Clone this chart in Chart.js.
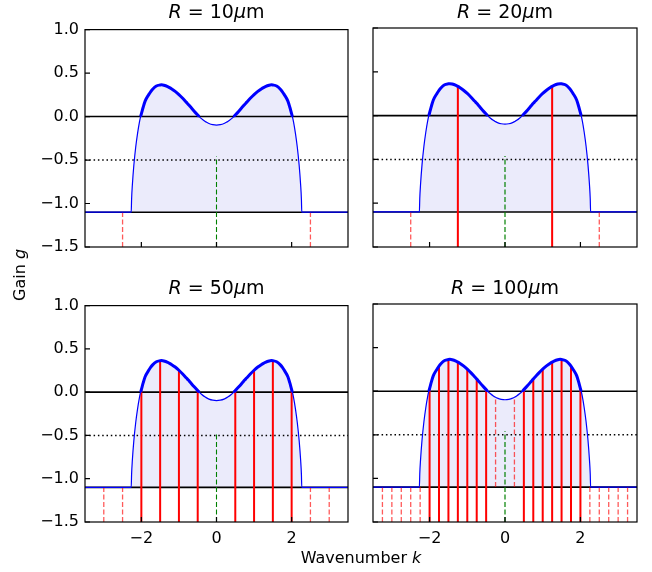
<!DOCTYPE html>
<html>
<head>
<meta charset="utf-8">
<script src="https://cdn.jsdelivr.net/npm/chart.js@4.4.1/dist/chart.umd.min.js"></script>
<style>
  body { margin: 0; background: #fff; font-family: "DejaVu Sans", sans-serif; }
  #fig { position: relative; width: 652px; height: 572px; overflow: hidden; }
  .panel { position: absolute; }
  .ttl { position: absolute; font-size: 19px; line-height: 19px; white-space: nowrap; transform: translateX(-50%); color: #000; }
  .lbl { position: absolute; font-size: 16px; line-height: 16px; white-space: nowrap; color: #000; }
</style>
</head>
<body>
<div id="fig"></div>
<script>
// radios de cada panel (en micras)
const radii = [10, 20, 50, 100];

// curva de ganancia g(k)
const kGrid = [-3.5, -2.27, -2.26, -2.24, -2.2, -2.15, -2.1, -2.05, -2.02, -2.0, -1.95, -1.9, -1.8, -1.75, -1.7, -1.6,
  -1.5, -1.46, -1.4, -1.3, -1.25, -1.2, -1.1, -1.0, -0.9, -0.8, -0.75, -0.7, -0.6, -0.5, -0.46, -0.4, -0.3, -0.25,
  -0.2, -0.1, 0, 0.1, 0.2, 0.25, 0.3, 0.4, 0.46, 0.5, 0.6, 0.7, 0.75, 0.8, 0.9, 1.0, 1.1, 1.2, 1.25, 1.3, 1.4, 1.46,
  1.5, 1.6, 1.7, 1.75, 1.8, 1.9, 1.95, 2.0, 2.02, 2.05, 2.1, 2.15, 2.2, 2.24, 2.26, 2.27, 3.5];
const gain = [-1.1, -1.1, -0.95, -0.79, -0.56, -0.35, -0.19, -0.06, 0.0, 0.03, 0.11, 0.178, 0.255, 0.288, 0.315, 0.352,
  0.363, 0.365, 0.36, 0.344, 0.333, 0.32, 0.29, 0.253, 0.21, 0.163, 0.14, 0.115, 0.065, 0.018, 0.0, -0.024, -0.057, -0.069,
  -0.08, -0.093, -0.098, -0.093, -0.08, -0.069, -0.057, -0.024, 0.0, 0.018, 0.065, 0.115, 0.14, 0.163, 0.21, 0.253, 0.29,
  0.32, 0.333, 0.344, 0.36, 0.365, 0.363, 0.352, 0.315, 0.288, 0.255, 0.178, 0.11, 0.03, 0.0, -0.06, -0.19, -0.35, -0.56,
  -0.79, -0.95, -1.1, -1.1];

// modos permitidos en cada panel
const modesR10 = [-2.5, 0, 2.5];
const modesR20 = [-2.5, -1.25, 0, 1.25, 2.5];
const modesR50 = [-3, -2.5, -2, -1.5, -1, -0.5, 0, 0.5, 1, 1.5, 2, 2.5, 3];
const modesR100 = [-3.25, -3, -2.75, -2.5, -2.25, -2, -1.75, -1.5, -1.25, -1, -0.75, -0.5, -0.25, 0,
  0.25, 0.5, 0.75, 1, 1.25, 1.5, 1.75, 2, 2.25, 2.5, 2.75, 3, 3.25];
const modeSets = [modesR10, modesR20, modesR50, modesR100];

// lineas horizontales y ejes
const floorGain = -1.1;
const zeroLine = 0;
const dottedLine = -0.5;
const greenTop = -0.46;
const xTicks = [-2, 0, 2];
const yTicks = [-1.5, -1.0, -0.5, 0.0, 0.5, 1.0];
const xRange = [-3.5, 3.5];
const yRange = [-1.5, 1.0];

// posicion de cada panel en la figura (area del grafico)
const panels = [
  { left: 85, top: 28, w: 263, h: 219, showX: false, showY: true },
  { left: 373, top: 28, w: 264, h: 219, showX: false, showY: false },
  { left: 85, top: 304, w: 263, h: 218, showX: true, showY: true },
  { left: 373, top: 304, w: 264, h: 218, showX: true, showY: false }
];
const greenStyle = [
  { color: 'green', width: 1.1 },
  { color: 'rgba(0,128,0,0.6)', width: 2 },
  { color: 'green', width: 1.1 },
  { color: 'rgba(0,128,0,0.6)', width: 2 }
];

const PAD_L = 60, PAD_T = 14, PAD_R = 14, PAD_B = 34;
const minus = s => String(s).replace('-', '\u2212');

function gainAt(k) {
  const i = kGrid.findIndex(v => Math.abs(v - k) < 1e-9);
  return i < 0 ? floorGain : gain[i];
}

function hline(y) {
  return [{ x: xRange[0], y: y }, { x: xRange[1], y: y }];
}

// separa los modos en lineas rojas solidas, rojas discontinuas y la verde en k=0
function modeLines(modes) {
  const solid = [], dashed = [], green = [];
  modes.forEach(k => {
    const g = gainAt(k);
    if (k === 0) {
      green.push({ x: k, y: yRange[0] }, { x: k, y: greenTop }, { x: k, y: null });
    } else if (g > 0) {
      solid.push({ x: k, y: yRange[0] }, { x: k, y: g }, { x: k, y: null });
    } else if (g <= floorGain) {
      dashed.push({ x: k, y: yRange[0] }, { x: k, y: floorGain }, { x: k, y: null });
    } else {
      dashed.push({ x: k, y: floorGain }, { x: k, y: g }, { x: k, y: null });
    }
  });
  return { solid, dashed, green };
}

// marco y ticks hacia dentro, como matplotlib
const framePlugin = {
  id: 'frame',
  afterDatasetsDraw(chart) {
    const { ctx, chartArea: a, scales } = chart;
    ctx.save();
    ctx.strokeStyle = '#000';
    ctx.lineWidth = 1.2;
    ctx.beginPath();
    yTicks.forEach(v => {
      const y = scales.y.getPixelForValue(v);
      ctx.moveTo(a.left, y); ctx.lineTo(a.left + 5, y);
    });
    xTicks.forEach(v => {
      const x = scales.x.getPixelForValue(v);
      ctx.moveTo(x, a.bottom); ctx.lineTo(x, a.bottom - 5);
    });
    ctx.stroke();
    ctx.strokeRect(a.left, a.top, a.right - a.left, a.bottom - a.top);
    ctx.restore();
  }
};

function makePanel(idx) {
  const p = panels[idx];
  const fig = document.getElementById('fig');
  const canvas = document.createElement('canvas');
  canvas.className = 'panel';
  canvas.width = PAD_L + p.w + PAD_R;
  canvas.height = PAD_T + p.h + PAD_B;
  canvas.style.left = (p.left - PAD_L) + 'px';
  canvas.style.top = (p.top - PAD_T) + 'px';
  fig.appendChild(canvas);

  const lines = modeLines(modeSets[idx]);
  const curve = kGrid.map((k, i) => ({ x: k, y: gain[i] }));
  const positive = kGrid.map((k, i) => ({ x: k, y: gain[i] >= 0 ? gain[i] : null }));
  const common = { showLine: true, pointRadius: 0, tension: 0, spanGaps: false, fill: false };
  const smooth = { cubicInterpolationMode: 'monotone' };

  new Chart(canvas, {
    type: 'scatter',
    data: {
      datasets: [
        { ...common, ...smooth, data: positive, borderColor: 'blue', borderWidth: 3, order: 0 },
        { ...common, ...smooth, data: curve, borderColor: 'blue', borderWidth: 1.2, order: 1,
          fill: { value: floorGain }, backgroundColor: 'rgb(235,235,251)' },
        { ...common, data: lines.solid, borderColor: 'red', borderWidth: 2, order: 2 },
        { ...common, data: lines.dashed, borderColor: 'rgba(255,0,0,0.65)', borderWidth: 1.3, borderDash: [5, 2.5], order: 2 },
        { ...common, data: lines.green, borderColor: greenStyle[idx].color, borderWidth: greenStyle[idx].width, borderDash: [5, 2.5], order: 2 },
        { ...common, data: hline(zeroLine), borderColor: '#000', borderWidth: 1.6, order: 3 },
        { ...common, data: hline(dottedLine), borderColor: '#000', borderWidth: 1.5, borderDash: [1.5, 2.8], order: 3 },
        { ...common, data: hline(floorGain), borderColor: '#000', borderWidth: 1.6, order: 3 }
      ]
    },
    options: {
      responsive: false,
      animation: false,
      events: [],
      layout: { padding: { left: 0, top: PAD_T, right: PAD_R, bottom: 0 } },
      plugins: {
        legend: { display: false },
        tooltip: { enabled: false },
        filler: { drawTime: 'beforeDatasetsDraw' }
      },
      scales: {
        x: {
          type: 'linear', min: xRange[0], max: xRange[1],
          grid: { display: false, drawTicks: false },
          border: { display: false },
          afterBuildTicks: s => { s.ticks = xTicks.map(v => ({ value: v })); },
          afterFit: s => { s.height = PAD_B; },
          ticks: {
            display: p.showX, padding: 7, color: '#000',
            font: { family: 'DejaVu Sans', size: 16 },
            callback: v => minus(v)
          }
        },
        y: {
          type: 'linear', min: yRange[0], max: yRange[1],
          grid: { display: false, drawTicks: false },
          border: { display: false },
          afterBuildTicks: s => { s.ticks = yTicks.map(v => ({ value: v })); },
          afterFit: s => { s.width = PAD_L; },
          ticks: {
            display: p.showY, padding: 6, color: '#000',
            font: { family: 'DejaVu Sans', size: 16 },
            callback: v => minus(v.toFixed(1))
          }
        }
      }
    },
    plugins: [framePlugin]
  });

  // titulo del panel
  const t = document.createElement('div');
  t.className = 'ttl';
  t.innerHTML = '<i>R</i> = ' + radii[idx] + '<i>\u03bc</i>m';
  t.style.left = (p.left + p.w / 2) + 'px';
  t.style.top = (p.top - 26) + 'px';
  fig.appendChild(t);
}

panels.forEach((p, i) => makePanel(i));

// etiquetas de los ejes compartidas
const fig = document.getElementById('fig');
const xl = document.createElement('div');
xl.className = 'lbl';
xl.innerHTML = 'Wavenumber <i>k</i>';
xl.style.left = '361px';
xl.style.top = '550px';
xl.style.transform = 'translateX(-50%)';
fig.appendChild(xl);

const yl = document.createElement('div');
yl.className = 'lbl';
yl.innerHTML = 'Gain <i>g</i>';
yl.style.left = '20px';
yl.style.top = '275px';
yl.style.transform = 'translate(-50%, -50%) rotate(-90deg)';
fig.appendChild(yl);
</script>
</body>
</html>
